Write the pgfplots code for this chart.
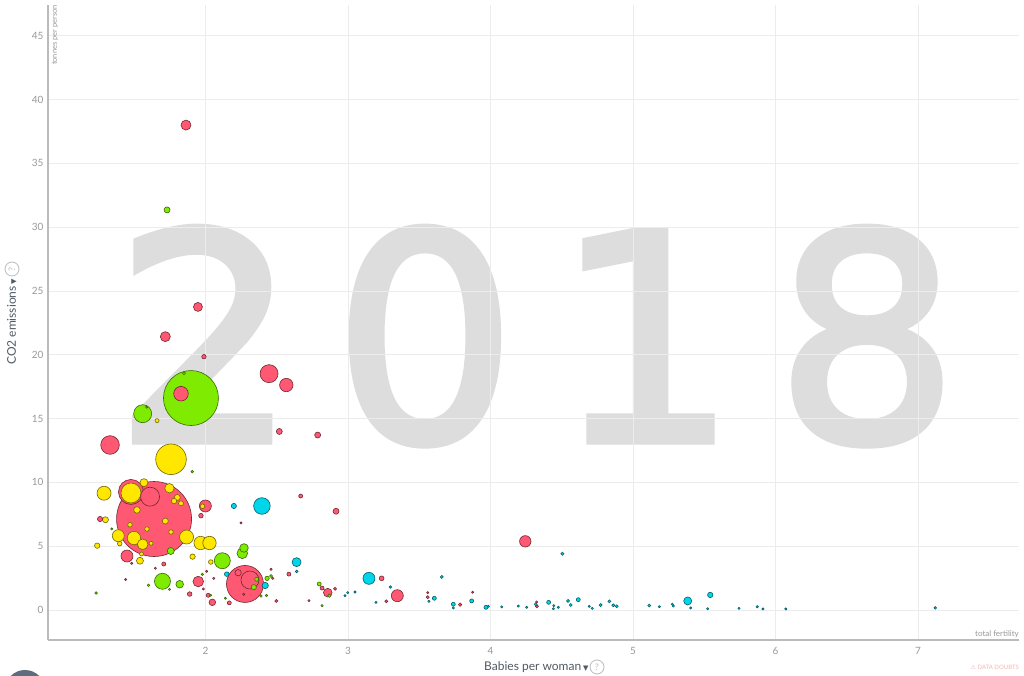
\documentclass[border=0pt]{standalone}
\usepackage{pgfplots}
\usepackage{pgfplotstable}
\pgfplotsset{compat=1.18}
\usepackage{fontspec}
\setmainfont{Lato}
\newfontfamily\sym{DejaVu Sans}
\newfontfamily\yearfont[FakeBold=2.5]{DejaVu Sans}

\definecolor{gridgray}{HTML}{ECECEC}
\definecolor{axisgray}{HTML}{BBBBBB}
\definecolor{tickgray}{HTML}{999999}
\definecolor{labelgray}{HTML}{505A64}
\definecolor{yeargray}{HTML}{DDDDDD}
\definecolor{doubts}{HTML}{F4B8B0}
\definecolor{btn}{HTML}{5D6D7E}

% x  y  r(radius, px)  c (0 asia, 1 europe, 2 americas, 3 africa)
\pgfplotstableread{
x y r c
1.639 7.13 37.5 0
1.898 16.61 27.5 2
2.277 2.04 18.5 0
1.758 11.81 15.3 1
1.477 9.25 12.5 0
1.477 9.17 10.0 1
1.611 8.88 9.5 0
2.312 2.35 9.0 0
1.330 12.93 9.3 0
2.446 18.52 9.0 0
1.559 15.38 9.0 2
2.396 8.15 8.3 3
2.118 3.86 8.0 2
1.698 2.25 8.0 2
1.828 16.95 7.3 0
1.288 9.15 7.0 1
1.867 5.72 7.0 1
2.567 17.63 6.7 0
1.966 5.25 6.7 1
2.028 5.25 6.7 1
1.498 5.64 6.7 1
3.147 2.48 6.0 3
3.346 1.12 6.0 0
1.449 4.23 6.0 0
1.388 5.82 6.0 1
1.999 8.15 6.0 0
4.244 5.38 5.7 0
2.258 4.44 5.3 2
1.949 2.23 5.3 0
1.559 5.15 5.3 1
1.863 38.00 5.0 0
1.718 21.42 5.0 0
2.639 3.75 4.5 3
1.947 23.75 4.5 0
1.747 9.54 4.7 1
2.270 4.86 4.3 2
2.858 1.36 4.3 0
5.384 0.71 4.0 3
1.568 9.98 4.0 1
1.819 2.02 3.8 2
1.540 3.86 3.5 1
1.756 4.62 3.5 2
1.519 7.84 3.3 1
2.048 0.60 3.3 0
2.419 1.92 3.2 3
2.229 2.92 3.2 0
1.802 8.82 3.0 1
1.718 6.97 3.0 1
1.298 7.07 3.0 1
1.730 31.35 3.0 2
2.518 13.99 3.0 0
2.787 13.71 3.0 0
2.916 7.74 3.0 0
1.240 5.04 2.7 1
1.909 4.18 2.7 1
2.199 8.15 2.6 3
2.339 1.79 2.6 2
5.542 1.18 2.7 3
1.779 8.54 2.7 1
1.828 8.36 2.5 1
1.260 7.13 2.6 0
1.979 8.13 2.3 1
1.968 7.39 2.3 0
3.236 2.48 2.4 0
1.470 6.68 2.3 1
1.589 6.35 2.3 1
1.758 6.11 2.3 1
1.398 5.20 2.3 1
2.037 3.76 2.3 1
2.149 2.81 2.3 3
1.889 1.25 2.3 0
2.432 2.48 2.2 2
1.989 19.85 2.2 0
2.668 8.93 2.0 0
1.551 4.39 2.0 1
1.618 5.23 2.0 1
1.660 14.84 2.0 1
1.707 3.60 2.0 0
2.019 1.15 2.0 0
2.167 0.56 2.0 0
2.585 2.81 2.0 0
2.359 2.41 2.0 2
2.798 2.04 2.0 2
2.818 1.72 2.0 0
3.606 0.92 2.0 3
3.739 0.45 2.0 3
3.868 0.71 2.0 3
3.968 0.21 2.0 3
4.408 0.60 2.0 3
4.616 0.81 2.0 3
3.786 0.42 1.7 0
2.869 1.12 1.7 2
2.909 1.66 1.5 0
2.497 0.71 1.5 0
2.460 2.66 1.5 2
2.640 3.02 1.4 3
4.504 4.41 1.6 3
3.658 2.59 1.5 3
3.297 1.80 1.3 3
3.269 0.68 1.5 0
3.559 1.00 1.5 0
4.326 0.29 1.5 0
4.317 0.45 1.5 3
4.544 0.71 1.5 3
4.563 0.39 1.5 3
4.773 0.39 1.5 3
4.834 0.68 1.5 3
4.862 0.37 1.5 3
4.886 0.29 1.5 3
5.114 0.35 1.5 3
1.849 18.55 1.5 2
1.907 10.84 1.3 2
1.600 1.94 1.3 2
1.232 1.33 1.3 2
5.872 0.26 1.2 3
2.389 1.10 1.3 2
2.428 1.14 1.2 2
1.978 2.80 1.2 2
2.249 6.82 1.1 0
1.648 3.27 1.1 0
1.440 2.39 1.1 0
1.482 3.66 1.1 0
1.747 1.62 1.1 2
1.587 15.90 1.1 2
1.342 6.35 1.1 2
2.058 2.48 1.1 0
2.008 3.03 1.1 0
1.985 1.65 1.1 0
2.036 1.15 1.1 2
2.139 0.92 1.1 2
2.268 1.23 1.1 0
2.460 3.19 1.1 0
2.472 2.48 1.1 0
2.726 0.73 1.1 0
2.818 0.34 1.1 2
2.979 1.12 1.1 3
2.998 1.36 1.1 3
3.049 1.41 1.1 3
3.196 0.60 1.1 3
3.559 1.36 1.1 0
3.568 0.68 1.1 3
3.739 0.16 1.1 3
3.875 1.39 1.1 0
3.985 0.29 1.1 3
4.079 0.24 1.1 3
4.195 0.31 1.1 3
4.254 0.21 1.1 3
4.324 0.63 1.1 0
4.444 0.34 1.1 3
4.441 0.10 1.1 3
4.476 0.21 1.1 3
4.693 0.29 1.1 3
4.714 0.13 1.1 3
5.185 0.26 1.1 3
5.276 0.45 1.1 3
5.283 0.31 1.1 3
5.405 0.16 1.1 3
5.524 0.10 1.1 3
5.744 0.13 1.1 3
5.912 0.08 1.1 3
6.072 0.08 1.1 3
7.121 0.16 1.3 3
}\bubbles

\begin{document}
\begin{tikzpicture}[x=1pt,y=1pt]
\useasboundingbox (0,0) rectangle (1024,676);
\fill[white] (0,0) rectangle (1024,676);

%% big year in the background
\begin{scope}[every node/.style={anchor=base, inner sep=0pt, text=yeargray,
    font=\yearfont\fontsize{288pt}{288pt}\selectfont}]
\node at (206,235) {2};
\node at (425,235) {0};
\node at (646,235) {1};
\node at (867,235) {8};
\end{scope}

\begin{axis}[
    at={(48pt,36pt)}, anchor=south west,
    scale only axis, width=971pt, height=635pt,
    xmin=0.8947, xmax=7.7088,
    ymin=-2.351, ymax=47.41,
    axis x line*=bottom, axis y line*=left,
    axis line style={-, draw=axisgray, line width=1.2pt},
    xtick={2,3,4,5,6,7},
    ytick={0,5,10,15,20,25,30,35,40,45},
    major tick length=0pt,
    grid=major,
    major grid style={draw=gridgray, line width=0.9pt},
    ticklabel style={font=\fontsize{10}{12}\selectfont, text=tickgray},
    /pgf/number format/assume math mode=true,
    xticklabel style={yshift=-4pt},
    yticklabel style={xshift=-1pt},
    colormap={gm}{rgb255=(255,88,114) rgb255=(255,231,0) rgb255=(127,235,0) rgb255=(0,213,233)},
    point meta min=0, point meta max=3,
    clip=false,
]
\addplot[scatter, only marks, mark=*,
    line width=0.6pt,
    point meta=explicit,
    scatter/use mapped color={draw=mapped color!45!black, fill=mapped color},
    visualization depends on={\thisrow{r} \as \rad},
    scatter/@pre marker code/.append style={/tikz/mark size=\rad}]
    table[x=x, y=y, meta=c] {\bubbles};
\end{axis}

%% axis captions
\node[rotate=90, anchor=east, inner sep=0pt, text=tickgray,
      font=\fontsize{7.5}{9}\selectfont] at (55,671) {tonnes per person};
\node[anchor=east, inner sep=0pt, text=tickgray,
      font=\fontsize{8}{10}\selectfont] at (1019,42) {total fertility};

\node[rotate=90, anchor=west, inner sep=0pt, text=labelgray,
      font=\fontsize{12}{14}\selectfont] at (12,311)
      {CO2 emissions\,{\sym\fontsize{7}{8}\selectfont ▼}};
\node[circle, draw=axisgray, line width=0.8pt, inner sep=0pt, minimum size=14pt,
      text=axisgray, font=\fontsize{9}{10}\selectfont, rotate=90] at (12,407) {?};

\node[anchor=west, inner sep=0pt, text=labelgray,
      font=\fontsize{12}{14}\selectfont] at (484,9)
      {Babies per woman\,{\sym\fontsize{7}{8}\selectfont ▼}};
\node[circle, draw=axisgray, line width=0.8pt, inner sep=0pt, minimum size=14pt,
      text=axisgray, font=\fontsize{9}{10}\selectfont] at (597,9) {?};

\node[anchor=east, inner sep=0pt, text=doubts,
      font=\fontsize{6}{7}\selectfont] at (1019,9) {{\sym ⚠}\ DATA DOUBTS};

\fill[btn] (25,-14) circle (20);
\end{tikzpicture}
\end{document}
